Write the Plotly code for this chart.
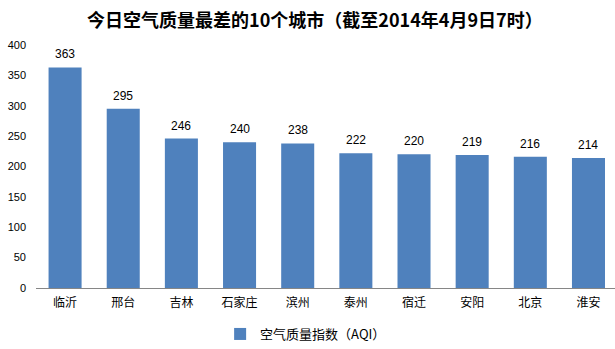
import plotly.graph_objects as go

# Ten cities with the worst air quality index (AQI)
cities = ["临沂", "邢台", "吉林", "石家庄", "滨州", "泰州", "宿迁", "安阳", "北京", "淮安"]
aqi = [363, 295, 246, 240, 238, 222, 220, 219, 216, 214]
y_ticks = [0, 50, 100, 150, 200, 250, 300, 350, 400]

BAR_COLOR = "#4F81BD"
CJK = "Noto Sans CJK SC"

fig = go.Figure()
fig.add_trace(go.Bar(
    x=cities,
    y=aqi,
    name="空气质量指数（AQI）",
    marker=dict(color=BAR_COLOR, line=dict(width=0)),
    showlegend=True,
))

# value labels above each bar
for c, v in zip(cities, aqi):
    fig.add_annotation(
        x=c, y=v, text=str(v), showarrow=False,
        xref="x", yref="y", yanchor="bottom", yshift=4,
        font=dict(family="Liberation Sans", size=12, color="#000000"),
    )

fig.update_layout(
    width=615, height=349,
    margin=dict(l=36, r=0, t=45, b=61),
    paper_bgcolor="white",
    plot_bgcolor="white",
    bargap=0.432,
    title=dict(
        text="<b>今日空气质量最差的10个城市（截至2014年4月9日7时）</b>",
        x=0.512, xanchor="center", xref="container",
        y=0.94, yanchor="middle", yref="container",
        font=dict(family=CJK, size=18, color="#000000"),
    ),
    xaxis=dict(
        range=[-0.5, 9.456],
        showgrid=False,
        showline=True, linecolor="#868686", linewidth=1,
        ticks="",
        ticklabelstandoff=4,
        tickfont=dict(family=CJK, size=12, color="#000000"),
        fixedrange=True,
    ),
    yaxis=dict(
        range=[0, 400],
        tickvals=y_ticks,
        ticktext=[str(t) for t in y_ticks],
        showgrid=False, zeroline=False, showline=False,
        ticks="",
        ticklabelstandoff=9,
        tickfont=dict(family="Liberation Sans", size=11, color="#000000"),
        fixedrange=True,
    ),
    legend=dict(
        orientation="h",
        x=0.318, xanchor="left",
        y=-0.128, yanchor="top",
        font=dict(family=CJK, size=13, color="#000000"),
        itemwidth=30,
        bgcolor="rgba(0,0,0,0)",
    ),
    showlegend=True,
)

fig.write_html("out.html")
